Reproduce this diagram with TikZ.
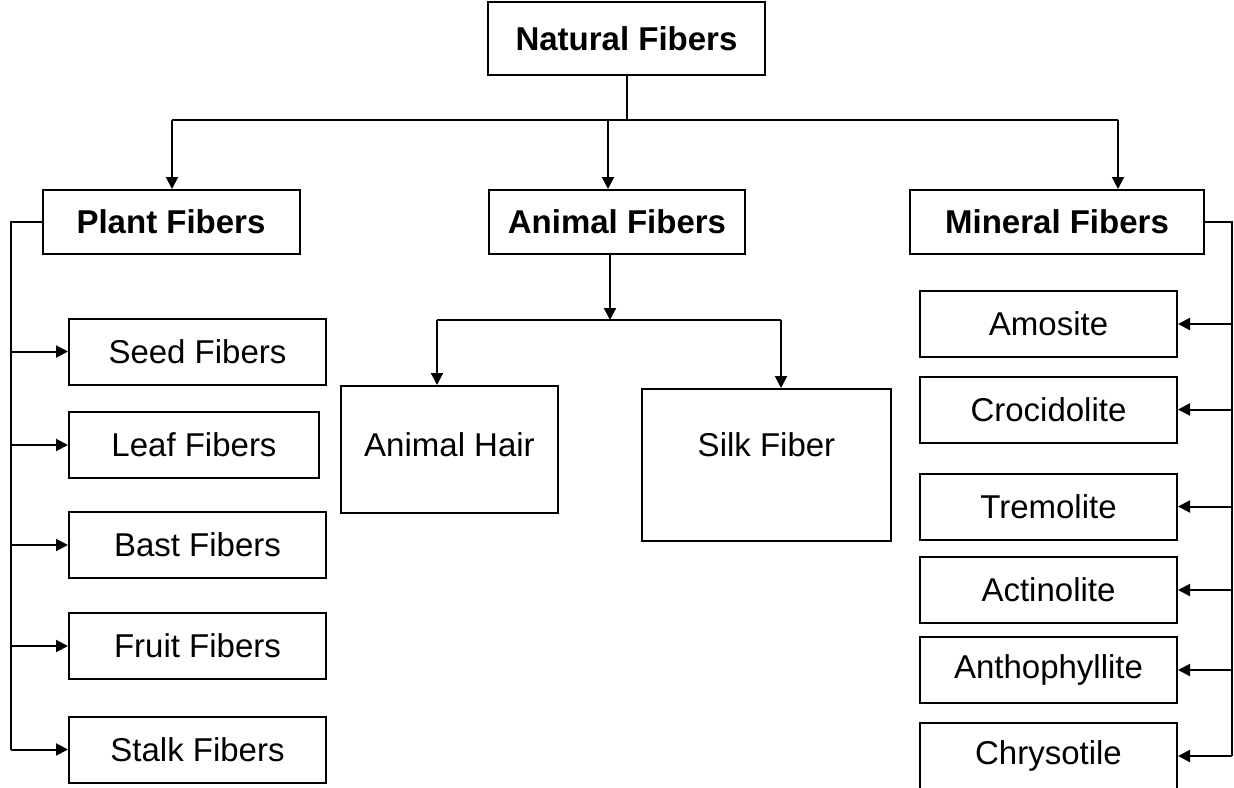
\documentclass[tikz,border=0pt]{standalone}
\usepackage{fontspec}
\setmainfont{Liberation Sans}
\usetikzlibrary{arrows.meta}

\begin{document}
\begin{tikzpicture}[x=1pt,y=-1pt,>={Triangle[length=12pt,width=12pt]},line width=2pt]
  \tikzstyle{box}=[draw,rectangle,inner sep=0pt,font=\fontsize{33}{40}\selectfont]
  \tikzstyle{head}=[box,font=\fontsize{33}{40}\selectfont\bfseries,minimum height=64pt]
  \clip (0,0) rectangle (1234,787);
  \useasboundingbox (0,0) rectangle (1234,787);

  % top level
  \node[head,minimum width=277pt,minimum height=73pt] (nat) at (626.5,38.5) {Natural Fibers};
  \node[head,minimum width=257pt] (plant) at (171,222) {Plant Fibers};
  \node[head,minimum width=256pt] (animal) at (617,222) {Animal Fibers};
  \node[head,minimum width=294pt] (mineral) at (1057,222) {Mineral Fibers};

  \coordinate (tl) at (172,120);
  \coordinate (tm) at (608,120);
  \coordinate (tr) at (1118,120);
  \draw (nat.south) -- (nat.south |- tl);
  \draw (tl) -- (tr);
  \draw[->] (tl) -- (tl |- plant.north);
  \draw[->] (tm) -- (tm |- animal.north);
  \draw[->] (tr) -- (tr |- mineral.north);

  % plant fibers
  \foreach \n/\y/\w/\t in {seed/351.5/257/Seed Fibers,leaf/445/250/Leaf Fibers,
      bast/545/257/Bast Fibers,fruit/646/257/Fruit Fibers,stalk/749.5/257/Stalk Fibers} {
    \node[box,minimum width=\w pt,minimum height=66pt,anchor=west] (\n) at (68,\y) {\t};
  }
  \draw (plant.west) -- (11,222) coordinate (pl) -- (pl |- stalk.west);
  \foreach \n in {seed,leaf,bast,fruit,stalk} {
    \draw[->] (pl |- \n.west) -- (\n.west);
  }

  % animal fibers
  \node[box,minimum width=217pt,text height=70pt,text depth=57pt,anchor=north west] (hair) at (340,385) {Animal Hair};
  \node[box,minimum width=249pt,text height=67pt,text depth=85pt,anchor=north west] (silk) at (641,388) {Silk Fiber};
  \coordinate (am) at (610,320);
  \draw[->] (am |- animal.south) -- (am);
  \draw (437,320) coordinate (al) -- (781,320) coordinate (ar);
  \draw[->] (al) -- (al |- hair.north);
  \draw[->] (ar) -- (ar |- silk.north);

  % mineral fibers
  \foreach \n/\y/\t in {amo/324/Amosite,cro/409.5/Crocidolite,tre/506.5/Tremolite,
      act/590/Actinolite,ant/670/Anthophyllite,chr/756/Chrysotile} {
    \node[box,minimum width=257pt,minimum height=66pt,anchor=west] (\n) at (919,\y) {\t};
  }
  \draw (mineral.east) -- (1232,222) coordinate (mr) -- (mr |- chr.east);
  \foreach \n in {amo,cro,tre,act,ant,chr} {
    \draw[->] (mr |- \n.east) -- (\n.east);
  }
\end{tikzpicture}
\end{document}
